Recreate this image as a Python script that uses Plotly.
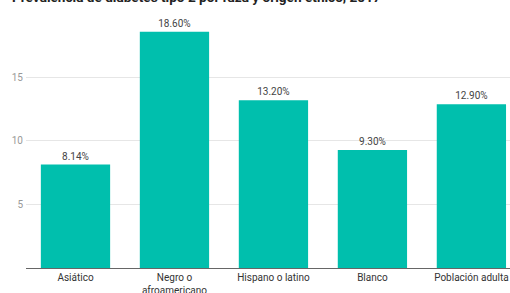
import plotly.graph_objects as go

categories = ["Asiático", "Negro o<br>afroamericano", "Hispano o latino", "Blanco", "Población adulta"]
values = [8.14, 18.60, 13.20, 9.30, 12.90]
labels = ["8.14%", "18.60%", "13.20%", "9.30%", "12.90%"]
title = "Prevalencia de diabetes tipo 2 por raza y origen étnico, 2017"

fig = go.Figure(go.Bar(
    x=categories, y=values, text=labels, textposition="outside",
    marker_color="#00BFAD", marker_line_width=0,
    textfont=dict(family="Roboto", size=10, color="#444"),
    cliponaxis=False,
))

fig.update_layout(
    width=510, height=293,
    margin=dict(l=26, r=0, t=0, b=25),
    paper_bgcolor="white", plot_bgcolor="white",
    bargap=0.30,
    showlegend=False,
    font=dict(family="Roboto", size=10, color="#444"),
    xaxis=dict(range=[-0.5, 4.39], showline=True, linecolor="#666", linewidth=1,
               ticks="", tickfont=dict(size=10, color="#333"), fixedrange=True,
               automargin=False),
    yaxis=dict(range=[0, 21.1], tickvals=[5, 10, 15], showgrid=True,
               gridcolor="#e6e6e6", zeroline=False, ticks="",
               tickfont=dict(size=10, color="#999"), ticklabelstandoff=2,
               automargin=False, fixedrange=True),
    annotations=[dict(text="<b>" + title + "</b>", x=0, xref="paper",
                      y=1.0, yref="paper", xanchor="left", yanchor="middle",
                      xshift=-16, yshift=3.5, showarrow=False,
                      font=dict(family="Roboto", size=13.6, color="#222"))],
)

fig.write_html("out.html", config={"displayModeBar": False},
               post_script="document.body.style.margin='0';document.body.style.overflow='hidden';")
